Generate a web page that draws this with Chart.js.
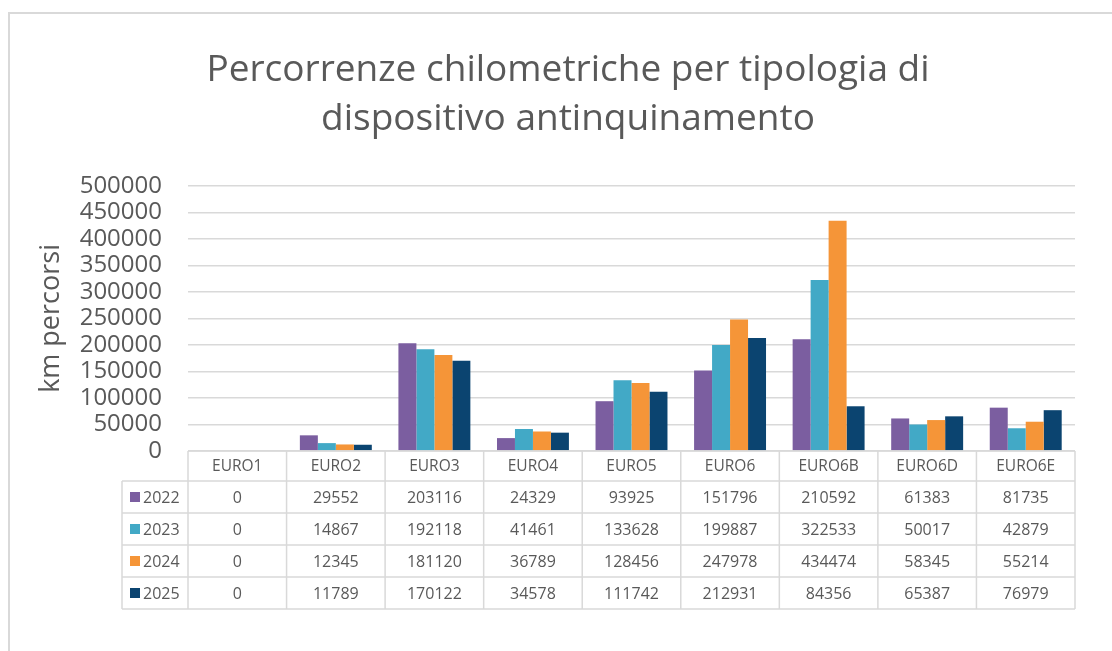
<!DOCTYPE html>
<html>
<head>
<meta charset="utf-8">
<script src="https://cdn.jsdelivr.net/npm/chart.js@4.4.1/dist/chart.umd.min.js"></script>
<style>
  html, body { margin: 0; padding: 0; background: #fff; overflow: hidden; }
  #wrap { position: relative; width: 1112px; height: 651px; }
  #frame { position: absolute; left: 8px; top: 12px; width: 1200px; height: 800px;
           border: 2px solid #d9d9d9; pointer-events: none; }
  canvas { position: absolute; left: 0; top: 0; }
</style>
</head>
<body>
<div id="wrap">
  <canvas id="chart" width="1112" height="651"></canvas>
  <div id="frame"></div>
</div>
<script>
const categories = ["EURO1", "EURO2", "EURO3", "EURO4", "EURO5", "EURO6", "EURO6B", "EURO6D", "EURO6E"];
const years = ["2022", "2023", "2024", "2025"];
const values2022 = [0, 29552, 203116, 24329, 93925, 151796, 210592, 61383, 81735];
const values2023 = [0, 14867, 192118, 41461, 133628, 199887, 322533, 50017, 42879];
const values2024 = [0, 12345, 181120, 36789, 128456, 247978, 434474, 58345, 55214];
const values2025 = [0, 11789, 170122, 34578, 111742, 212931, 84356, 65387, 76979];
const colors = ["#7b5ea0", "#42a9c6", "#f59538", "#0b4470"];

const textColor = "#595959";
const lineColor = "#d9d9d9";
const fontFamily = "'Open Sans', sans-serif";

// data table under the plot, columns follow the x scale
const dataTable = {
    id: "dataTable",
    afterDraw(chart) {
        const ctx = chart.ctx;
        const x = chart.scales.x;
        const top = chart.chartArea.bottom;
        const colW = (x.right - x.left) / categories.length;
        const headH = 30, rowH = 32;
        const legendLeft = 122;
        const bottom = top + headH + rowH * years.length;
        const rows = [values2022, values2023, values2024, values2025];

        ctx.save();
        ctx.strokeStyle = lineColor;
        ctx.lineWidth = 1.5;
        ctx.beginPath();
        ctx.moveTo(x.left, top);
        ctx.lineTo(x.right, top);
        for (let r = 0; r <= years.length; r++) {
            const y = top + headH + r * rowH;
            ctx.moveTo(legendLeft, y);
            ctx.lineTo(x.right, y);
        }
        for (let i = 0; i <= categories.length; i++) {
            const xx = x.left + i * colW;
            ctx.moveTo(xx, top);
            ctx.lineTo(xx, bottom);
        }
        ctx.moveTo(legendLeft, top + headH);
        ctx.lineTo(legendLeft, bottom);
        ctx.stroke();

        ctx.fillStyle = textColor;
        ctx.font = "15.5px " + fontFamily;
        ctx.textAlign = "center";
        ctx.textBaseline = "middle";
        categories.forEach((c, i) => {
            ctx.fillText(c, x.getPixelForValue(i), top + headH / 2 + 1);
        });
        ctx.font = "16px " + fontFamily;
        rows.forEach((vals, r) => {
            const cy = top + headH + r * rowH + rowH / 2 + 1;
            vals.forEach((v, i) => {
                ctx.fillStyle = textColor;
                ctx.fillText(String(v), x.getPixelForValue(i), cy);
            });
            ctx.fillStyle = colors[r];
            ctx.fillRect(legendLeft + 8, cy - 6, 10, 10);
            ctx.fillStyle = textColor;
            ctx.textAlign = "left";
            ctx.fillText(years[r], legendLeft + 21, cy);
            ctx.textAlign = "center";
        });
        ctx.restore();
    }
};

new Chart(document.getElementById("chart"), {
    type: "bar",
    data: {
        labels: categories,
        datasets: [
            { label: years[0], data: values2022, backgroundColor: colors[0] },
            { label: years[1], data: values2023, backgroundColor: colors[1] },
            { label: years[2], data: values2024, backgroundColor: colors[2] },
            { label: years[3], data: values2025, backgroundColor: colors[3] }
        ]
    },
    options: {
        responsive: false,
        animation: false,
        layout: { padding: { left: 24, right: 0, top: 0, bottom: 200 } },
        datasets: { bar: { categoryPercentage: 0.73, barPercentage: 1, borderWidth: 0 } },
        scales: {
            x: { display: false },
            y: {
                min: 0,
                max: 500000,
                ticks: {
                    stepSize: 50000,
                    autoSkip: false,
                    padding: 26,
                    color: textColor,
                    font: { family: fontFamily, size: 24, lineHeight: 1 },
                    callback: (v) => String(v)
                },
                grid: { color: lineColor, lineWidth: 1.5, drawTicks: false },
                border: { display: false },
                title: {
                    display: true,
                    text: "km percorsi",
                    color: textColor,
                    font: { family: fontFamily, size: 27 },
                    padding: { top: 11, bottom: 0 }
                },
                afterFit: (s) => { s.width = 164; }
            },
            yRight: {
                position: "right",
                display: true,
                ticks: { display: false },
                grid: { display: false },
                border: { display: false },
                afterFit: (s) => { s.width = 37; }
            }
        },
        plugins: {
            legend: { display: false },
            tooltip: { enabled: false },
            title: {
                display: true,
                text: ["Percorrenze chilometriche per tipologia di", "dispositivo antinquinamento"],
                color: textColor,
                font: { family: fontFamily, size: 37, weight: "normal", lineHeight: 1.35 },
                padding: { top: 45, bottom: 41 }
            }
        }
    },
    plugins: [dataTable]
});
</script>
</body>
</html>
